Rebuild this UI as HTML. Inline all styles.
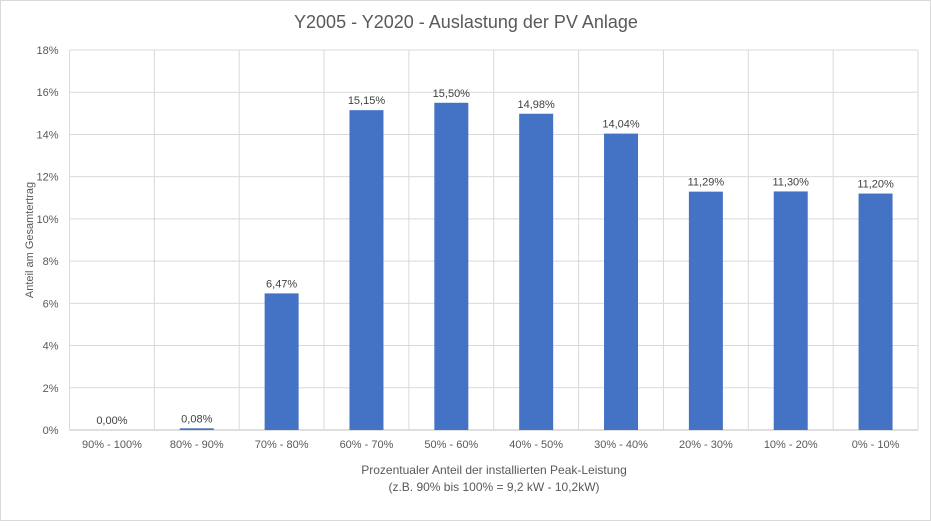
<!DOCTYPE html>
<html><head><meta charset="utf-8"><style>
body{margin:0;background:#fff;font-family:"Liberation Sans",sans-serif}
svg text{font-family:"Liberation Sans",sans-serif}
</style></head><body>
<svg width="931" height="521">
<rect x="0.5" y="0.5" width="930" height="520" fill="#fff" stroke="#d9d9d9"/>
<text x="466" y="28" text-anchor="middle" font-size="18" fill="#595959">Y2005 - Y2020 - Auslastung der PV Anlage</text>
<g id="grid"></g><g id="bars"></g><g id="labels"></g>
<text transform="translate(33,240) rotate(-90)" text-anchor="middle" font-size="11" fill="#595959">Anteil am Gesamtertrag</text>
<text x="494" y="474" text-anchor="middle" font-size="12" fill="#595959">Prozentualer Anteil der installierten Peak-Leistung</text>
<text x="494" y="491" text-anchor="middle" font-size="12" fill="#595959">(z.B. 90% bis 100% = 9,2 kW - 10,2kW)</text>
</svg>
<script>
const categories=["90% - 100%","80% - 90%","70% - 80%","60% - 70%","50% - 60%","40% - 50%","30% - 40%","20% - 30%","10% - 20%","0% - 10%"];
const values=[0.00,0.08,6.47,15.15,15.50,14.98,14.04,11.29,11.30,11.20];
const valueLabels=["0,00%","0,08%","6,47%","15,15%","15,50%","14,98%","14,04%","11,29%","11,30%","11,20%"];
const yTicks=[0,2,4,6,8,10,12,14,16,18];
const L=69.5,R=918,T=50,B=430,yMax=18;
const ns="http://www.w3.org/2000/svg";
const y=v=>B-(v/yMax)*(B-T);
const bw=(R-L)/categories.length;
const x=i=>L+i*bw;
function mk(tag,attrs,parent){const e=document.createElementNS(ns,tag);for(const k in attrs)e.setAttribute(k,attrs[k]);document.getElementById(parent).appendChild(e);return e;}
yTicks.forEach(t=>{
 const l=mk("line",{x1:L,x2:R,y1:y(t),y2:y(t),stroke:t===0?"#bfbfbf":"#d9d9d9"},"grid");
 
 
 const tx=mk("text",{x:L-11,y:y(t)+4,"text-anchor":"end","font-size":"11",fill:"#595959"},"grid");
 tx.textContent=t+"%";
 
 
});
for(let i=0;i<=categories.length;i++){
 const l=mk("line",{x1:x(i),x2:x(i),y1:T,y2:B,stroke:"#d9d9d9"},"grid");
 
 
}
categories.forEach((c,i)=>{
 const cx=x(i)+bw/2;
 const r=mk("rect",{x:cx-17,y:y(values[i]),width:34,height:B-y(values[i]),fill:"#4472c4"},"bars");
 
 
 const vl=mk("text",{x:cx,y:y(values[i])-6,"text-anchor":"middle","font-size":"11",fill:"#404040"},"labels");
 vl.textContent=valueLabels[i];
 
 
 const cl=mk("text",{x:cx,y:B+18,"text-anchor":"middle","font-size":"11",fill:"#595959"},"labels");
 cl.textContent=c;
 
 
});
</script>
</body></html>
